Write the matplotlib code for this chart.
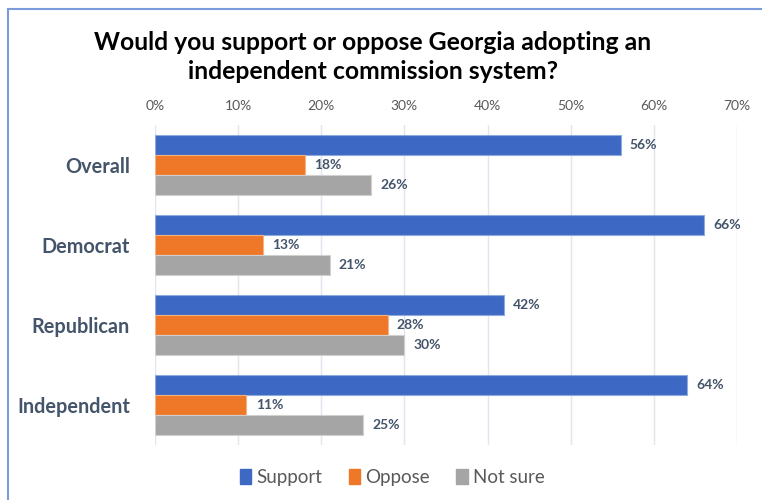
import matplotlib.pyplot as plt
from matplotlib.patches import Patch
import numpy as np

# ---------------------------
# DATA
# ---------------------------
groups = ["Overall", "Democrat", "Republican", "Independent"]
series = ["Support", "Oppose", "Not sure"]
support = [56, 66, 42, 64]
oppose = [18, 13, 28, 11]
not_sure = [26, 21, 30, 25]
ticks = [0, 10, 20, 30, 40, 50, 60, 70]

colors = ["#3D69C4", "#EE7828", "#A5A5A5"]
edges = ["#8FAADC", "#F4B183", "#D0D0D0"]
label_col = "#44546A"

plt.rcParams["font.family"] = ["Lato", "DejaVu Sans"]

fig = plt.figure(figsize=(7.62, 5), dpi=100)
ax = fig.add_axes([155 / 762, 1 - 445 / 500, (737 - 155) / 762, 320 / 500])

y = np.arange(len(groups))
h = 0.245
offsets = [-0.25, 0, 0.25]
for vals, off, c, e in zip([support, oppose, not_sure], offsets, colors, edges):
    ax.barh(y + off, vals, height=h, color=c, edgecolor=e, linewidth=0.8, zorder=3)
    for yi, v in zip(y + off, vals):
        ax.text(v + 1.1, yi, f"{v}%", va="center", ha="left",
                fontsize=10, fontweight="bold", color=label_col)

ax.set_xlim(0, 70)
ax.set_ylim(3.5, -0.5)
ax.set_xticks(ticks)
ax.set_xticklabels([f"{t}%" for t in ticks], fontsize=10, color="#595959")
ax.xaxis.tick_top()
ax.tick_params(axis="x", length=0, pad=9)
ax.set_yticks(y)
ax.set_yticklabels(groups, fontsize=14.3, fontweight="bold", color=label_col)
ax.tick_params(axis="y", length=0, pad=18)
ax.grid(axis="x", color="#E1E5EE", linewidth=1, zorder=0)
for s in ax.spines.values():
    s.set_visible(False)

fig.text(0.489, 0.886, "Would you support or oppose Georgia adopting an\nindependent commission system?",
         ha="center", va="center", fontsize=17.8, fontweight="bold", color="black", linespacing=1.35)

handles = [Patch(facecolor=c, edgecolor=c) for c in colors]
fig.legend(handles, series, loc="center", bbox_to_anchor=(0.515, 0.045), ncol=3, frameon=False,
           fontsize=13.5, labelcolor="#595959", handlelength=0.6, handleheight=0.8,
           handletextpad=0.3, columnspacing=1.4)

# blue frame (top and left edges visible)
fig.add_artist(plt.Line2D([8 / 762, 8 / 762], [0, 1 - 9 / 500], color="#7A9CDB", linewidth=1.5,
                          transform=fig.transFigure))
fig.add_artist(plt.Line2D([8 / 762, 1], [1 - 9 / 500, 1 - 9 / 500], color="#7A9CDB", linewidth=1.5,
                          transform=fig.transFigure))

fig.savefig("out.png", dpi=100)
